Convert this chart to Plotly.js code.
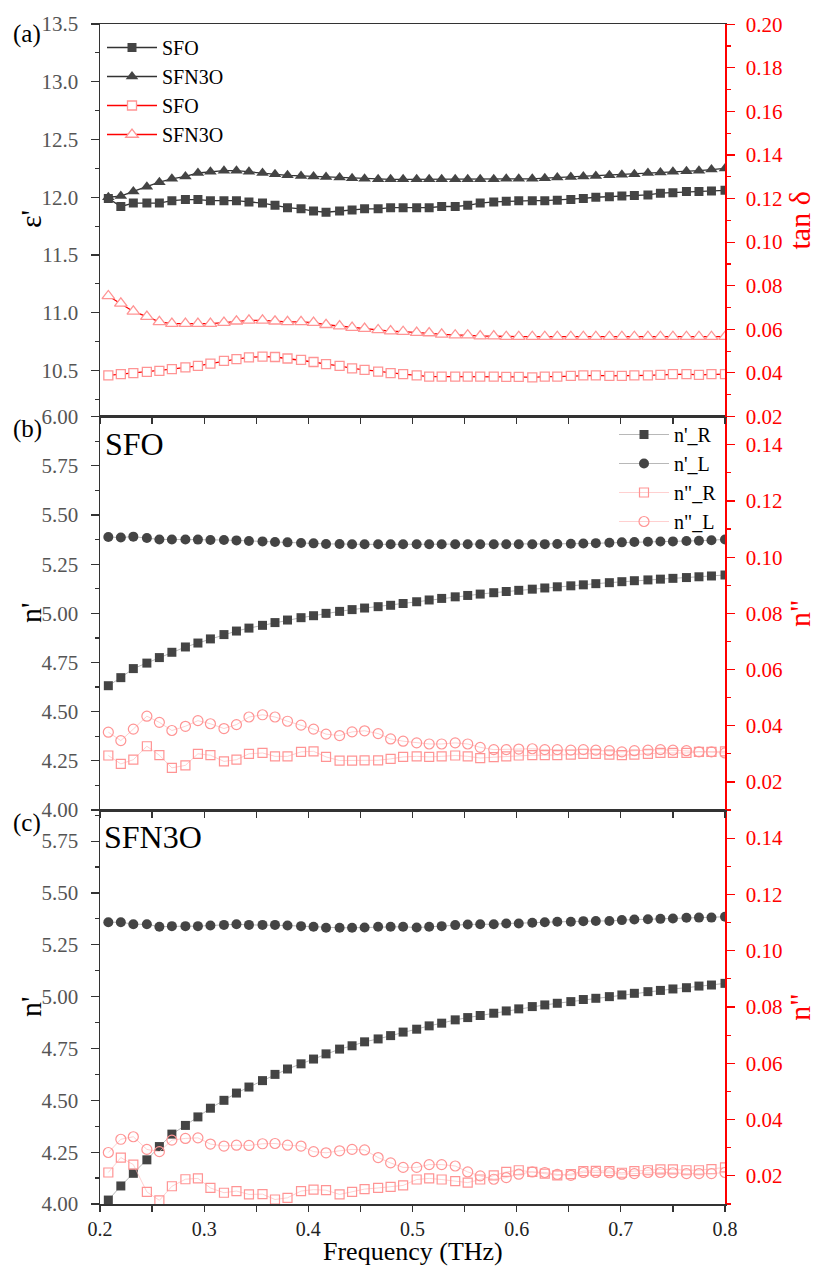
<!DOCTYPE html>
<html><head><meta charset="utf-8">
<script src="https://cdn.plot.ly/plotly-3.0.1.min.js"></script>
<style>html,body{margin:0;padding:0;background:#fff}#chart{width:816px;height:1266px}</style>
</head><body><div id="chart"></div>
<script>
// Frequency grid (THz)
const freq = [0.208,0.220,0.232,0.245,0.257,0.269,0.282,0.294,0.306,0.319,0.331,0.343,0.356,0.368,0.380,0.393,0.405,0.417,0.430,0.442,0.454,0.467,0.479,0.491,0.504,0.516,0.528,0.541,0.553,0.565,0.578,0.590,0.602,0.615,0.627,0.639,0.652,0.664,0.676,0.689,0.701,0.713,0.726,0.738,0.750,0.763,0.775,0.787,0.800];

// Panel (a): permittivity (left) and loss tangent (right)
const epsSFO = [11.99,11.92,11.95,11.95,11.95,11.97,11.98,11.98,11.97,11.97,11.97,11.96,11.95,11.93,11.91,11.90,11.88,11.87,11.88,11.89,11.90,11.90,11.91,11.91,11.91,11.91,11.92,11.92,11.93,11.95,11.96,11.965,11.97,11.97,11.97,11.975,11.98,11.99,12.0,12.005,12.01,12.015,12.02,12.035,12.04,12.05,12.05,12.055,12.06];
const epsSFN3O = [12.0,12.01,12.05,12.09,12.13,12.16,12.18,12.21,12.22,12.23,12.23,12.22,12.21,12.20,12.19,12.185,12.18,12.175,12.17,12.165,12.16,12.155,12.155,12.155,12.155,12.155,12.155,12.155,12.155,12.155,12.155,12.16,12.16,12.16,12.165,12.17,12.175,12.18,12.185,12.19,12.195,12.2,12.21,12.215,12.22,12.225,12.23,12.24,12.25];
const tanSFO = [0.0389,0.0394,0.0399,0.0405,0.0409,0.0417,0.0425,0.0432,0.0443,0.0455,0.0463,0.0471,0.0475,0.0473,0.0466,0.046,0.045,0.044,0.0432,0.0421,0.0414,0.0406,0.0399,0.0394,0.0389,0.0383,0.0383,0.0383,0.0383,0.0383,0.0383,0.0382,0.0382,0.0379,0.0383,0.0383,0.0386,0.0389,0.0389,0.0386,0.0386,0.0389,0.0389,0.0391,0.0394,0.0394,0.0391,0.0394,0.0394];
const tanSFN3O = [0.0753,0.0719,0.0682,0.0658,0.0634,0.0626,0.0626,0.0626,0.0626,0.0631,0.0637,0.0641,0.0641,0.0637,0.0634,0.0634,0.0631,0.0621,0.0615,0.0608,0.0603,0.0597,0.0592,0.0589,0.0585,0.0583,0.0577,0.0573,0.0573,0.0569,0.0569,0.0566,0.0566,0.0566,0.0566,0.0566,0.0566,0.0566,0.0566,0.0566,0.0566,0.0566,0.0566,0.0566,0.0566,0.0566,0.0566,0.0566,0.0566];

// Panel (b): SFO refractive index
const sfo_nR = [4.632,4.673,4.719,4.747,4.775,4.802,4.829,4.849,4.870,4.892,4.910,4.925,4.939,4.953,4.966,4.978,4.988,5.0,5.01,5.019,5.027,5.034,5.041,5.05,5.059,5.068,5.076,5.084,5.091,5.098,5.105,5.111,5.117,5.123,5.129,5.135,5.14,5.145,5.151,5.156,5.161,5.166,5.17,5.174,5.178,5.182,5.186,5.19,5.195];
const sfo_nL = [5.388,5.386,5.39,5.383,5.376,5.376,5.376,5.375,5.373,5.373,5.371,5.368,5.366,5.363,5.361,5.358,5.356,5.353,5.353,5.351,5.351,5.351,5.351,5.351,5.351,5.351,5.351,5.351,5.351,5.351,5.351,5.351,5.351,5.351,5.352,5.353,5.354,5.355,5.357,5.359,5.361,5.363,5.364,5.365,5.366,5.368,5.369,5.372,5.376];
const sfo_kR = [0.0294,0.0264,0.0279,0.0327,0.0295,0.025,0.0259,0.03,0.0295,0.0273,0.0279,0.03,0.0303,0.0291,0.0291,0.0307,0.0309,0.0289,0.0276,0.0276,0.0277,0.0277,0.0282,0.0289,0.0291,0.0289,0.0291,0.0294,0.0291,0.0285,0.0288,0.0291,0.0294,0.0295,0.0295,0.0295,0.0297,0.03,0.03,0.0297,0.0295,0.0297,0.03,0.0303,0.0303,0.0303,0.0307,0.0307,0.0309];
const sfo_kL = [0.0377,0.0347,0.0388,0.0434,0.0412,0.0383,0.0398,0.0418,0.0407,0.039,0.0404,0.0431,0.0439,0.0431,0.0416,0.0402,0.0388,0.037,0.0365,0.0378,0.0382,0.0372,0.0353,0.0345,0.0339,0.0335,0.0335,0.0339,0.0335,0.0323,0.0315,0.0315,0.0317,0.0318,0.0315,0.0315,0.0313,0.0315,0.0313,0.0311,0.0307,0.0311,0.0313,0.0315,0.0313,0.0311,0.0307,0.0307,0.0303];

// Panel (c): SFN3O refractive index
const sfn_nR = [4.019,4.087,4.148,4.213,4.277,4.337,4.379,4.42,4.462,4.5,4.535,4.564,4.595,4.625,4.651,4.676,4.699,4.724,4.747,4.763,4.782,4.796,4.812,4.829,4.843,4.859,4.872,4.888,4.899,4.909,4.92,4.931,4.941,4.952,4.96,4.968,4.976,4.986,4.992,5.0,5.008,5.016,5.024,5.03,5.037,5.043,5.051,5.056,5.064];
const sfn_nL = [5.359,5.359,5.349,5.349,5.337,5.34,5.34,5.34,5.343,5.346,5.349,5.346,5.346,5.346,5.343,5.34,5.337,5.332,5.332,5.332,5.333,5.337,5.337,5.337,5.333,5.337,5.34,5.345,5.348,5.349,5.349,5.353,5.353,5.356,5.359,5.361,5.361,5.364,5.365,5.365,5.369,5.372,5.373,5.375,5.377,5.38,5.381,5.381,5.385];
const sfn_kR = [0.0212,0.0265,0.024,0.0143,0.0113,0.0163,0.0188,0.0191,0.0157,0.014,0.0146,0.0134,0.0135,0.0116,0.0122,0.0146,0.0151,0.0149,0.0134,0.0143,0.0153,0.0157,0.0161,0.0166,0.0187,0.0191,0.0187,0.0181,0.0176,0.0187,0.0202,0.0214,0.022,0.0214,0.0208,0.0202,0.0206,0.0217,0.0218,0.0217,0.0211,0.0217,0.022,0.0223,0.0223,0.022,0.022,0.0224,0.023];
const sfn_kL = [0.0283,0.033,0.0339,0.0294,0.0286,0.0327,0.0333,0.0335,0.0313,0.0306,0.0309,0.0308,0.0314,0.0315,0.0309,0.0306,0.0286,0.0282,0.0289,0.0294,0.0292,0.0265,0.0246,0.023,0.023,0.024,0.024,0.0235,0.0214,0.02,0.0188,0.0194,0.0206,0.0214,0.0212,0.0205,0.0202,0.0212,0.0212,0.0211,0.0206,0.0208,0.0212,0.0212,0.0211,0.0208,0.0208,0.0208,0.0212];

const FONT = 'Liberation Serif, Times New Roman, serif';
const DARK = '#444444', LINE = '#333333', RED = '#ff0000', PINK = '#ff9494';

function blk(x, y, xa, ya, name, sym, size, lw, lc, leg, show) {
  return {x, y, xaxis: xa, yaxis: ya, name, mode: 'lines+markers', legend: leg, showlegend: show,
    line: {color: lc, width: lw}, marker: {symbol: sym, size, color: DARK}};
}
function redFilled(x, y, xa, ya, name, sym, size, leg, show) {
  return {x, y, xaxis: xa, yaxis: ya, name, mode: 'lines+markers', legend: leg, showlegend: show,
    line: {color: RED, width: 1.3}, marker: {symbol: sym, size, color: '#ffffff', line: {color: PINK, width: 1.3}}};
}
function redOpen(x, y, xa, ya, name, sym, size, leg, show) {
  return {x, y, xaxis: xa, yaxis: ya, name, mode: 'lines+markers', legend: leg, showlegend: show,
    line: {color: '#ffbcbc', width: 0.7}, marker: {symbol: sym, size, color: PINK, line: {color: PINK, width: 1.2}}};
}

const traces = [
  blk(freq, epsSFO, 'x3', 'y5', 'SFO', 'square', 9, 1.3, LINE, 'legend', true),
  blk(freq, epsSFN3O, 'x3', 'y5', 'SFN3O', 'triangle-up', 11, 1.3, LINE, 'legend', true),
  redFilled(freq, tanSFO, 'x3', 'y6', 'SFO', 'square', 9, 'legend', true),
  redFilled(freq, tanSFN3O, 'x3', 'y6', 'SFN3O', 'triangle-up', 11, 'legend', true),

  blk(freq, sfo_nR, 'x2', 'y3', "n'_R", 'square', 9, 0.6, '#888888', 'legend2', true),
  blk(freq, sfo_nL, 'x2', 'y3', "n'_L", 'circle', 10, 0.6, '#888888', 'legend2', true),
  redOpen(freq, sfo_kR, 'x2', 'y4', 'n"_R', 'square-open', 9, 'legend2', true),
  redOpen(freq, sfo_kL, 'x2', 'y4', 'n"_L', 'circle-open', 10, 'legend2', true),

  blk(freq, sfn_nR, 'x', 'y', "n'_R", 'square', 9, 0.6, '#888888', 'legend2', false),
  blk(freq, sfn_nL, 'x', 'y', "n'_L", 'circle', 10, 0.6, '#888888', 'legend2', false),
  redOpen(freq, sfn_kR, 'x', 'y2', 'n"_R', 'square-open', 9, 'legend2', false),
  redOpen(freq, sfn_kL, 'x', 'y2', 'n"_L', 'circle-open', 10, 'legend2', false)
];

const W = 816, H = 1266;
const xdom = [100 / W, 725 / W];
const dA = [1 - 416.7 / H, 1 - 24 / H];
const dB = [1 - 810 / H, 1 - 416.7 / H];
const dC = [1 - 1204 / H, 1 - 810 / H];

function xAxis(anchor, labels) {
  return {domain: xdom, anchor, range: [0.2, 0.8], tick0: 0.2, dtick: 0.1, ticks: 'outside', ticklen: 6,
    tickwidth: 1.2, tickcolor: LINE, showline: true, linecolor: LINE, linewidth: 1.5, mirror: true,
    showgrid: false, zeroline: false, showticklabels: labels, ticklabelstandoff: 0,
    tickfont: {family: FONT, size: 20, color: '#222'},
    minor: {dtick: 0.05, ticks: 'outside', ticklen: 6, tickwidth: 1.2, tickcolor: LINE, showgrid: false}};
}
function yLeft(domain, anchor, range, tick0, dtick, minorD, fmt) {
  return {domain, anchor, range, tick0, dtick, tickformat: fmt, ticks: 'outside', ticklen: 8, tickwidth: 1.2,
    tickcolor: LINE, showline: true, linecolor: LINE, linewidth: 1.5, showgrid: false, zeroline: false,
    ticklabelstandoff: 8, tickfont: {family: FONT, size: 21, color: '#555'},
    minor: {dtick: minorD, tick0: tick0, ticks: 'outside', ticklen: 4, tickwidth: 1.2, tickcolor: LINE, showgrid: false}};
}
function yRight(over, anchor, range, tick0, dtick, title) {
  return {overlaying: over, anchor, side: 'right', range, tick0, dtick, tickformat: '.2f', ticks: 'outside',
    ticklen: 8, tickwidth: 1.2, tickcolor: RED, showline: true, linecolor: RED, linewidth: 1.5,
    showgrid: false, zeroline: false, ticklabelstandoff: 7, tickfont: {family: FONT, size: 21, color: RED},
    minor: {dtick: 0.01, tick0: 0.01, ticks: 'outside', ticklen: 4, tickwidth: 1.2, tickcolor: RED, showgrid: false},
    title: {text: title, font: {family: FONT, size: 30, color: RED}, standoff: 8}};
}

const legendBase = {bgcolor: 'rgba(0,0,0,0)', borderwidth: 0, font: {family: FONT, size: 20, color: '#000'},
  tracegroupgap: 0, itemwidth: 50, traceorder: 'normal'};

function lab(text, xpx, ypx, size, xanchor, angle) {
  return {text, x: xpx / W, y: 1 - ypx / H, xref: 'paper', yref: 'paper', xanchor, yanchor: 'middle',
    textangle: angle || 0, showarrow: false, borderpad: 0, font: {family: FONT, size, color: '#000'}};
}

const layout = {
  width: W, height: H, margin: {l: 0, r: 0, t: 0, b: 0}, paper_bgcolor: '#fff', plot_bgcolor: 'rgba(0,0,0,0)',
  font: {family: FONT},
  xaxis: xAxis('y', true),
  xaxis2: xAxis('y3', false),
  xaxis3: xAxis('y5', false),
  yaxis: yLeft(dC, 'x', [4, 5.9], 4, 0.25, 0.125, '.2f'),
  yaxis2: yRight('y', 'x', [0.01, 0.15], 0.02, 0.02, 'n"'),
  yaxis3: yLeft(dB, 'x2', [3.9999, 6.0001], 4, 0.25, 0.125, '.2f'),
  yaxis4: yRight('y3', 'x2', [0.01, 0.15], 0.02, 0.02, 'n"'),
  yaxis5: yLeft(dA, 'x3', [10.1, 13.5001], 10.5, 0.5, 0.25, '.1f'),
  yaxis6: yRight('y5', 'x3', [0.0199, 0.2001], 0.02, 0.02, 'tan δ'),
  legend: Object.assign({}, legendBase, {x: 102 / W, xanchor: 'left', y: 1 - 28 / H, yanchor: 'top'}),
  legend2: Object.assign({}, legendBase, {x: 722 / W, xanchor: 'right', y: 1 - 415 / H, yanchor: 'top'}),
  annotations: [
    lab('(a)', 27, 34, 25, 'center'),
    lab('(b)', 27, 429, 25, 'center'),
    lab('(c)', 27, 823, 25, 'center'),
    lab('SFO', 104, 444, 32, 'left'),
    lab('SFN3O', 103, 837, 32, 'left'),
    lab("ε'", 30, 219, 30, 'center', -90),
    lab("n'", 30, 613, 30, 'center', -90),
    lab("n'", 30, 1007, 30, 'center', -90),
    lab('Frequency (THz)', 412.5, 1251, 26, 'center')
  ]
};

Plotly.newPlot('chart', traces, layout, {staticPlot: true, displayModeBar: false});
</script>
</body></html>
